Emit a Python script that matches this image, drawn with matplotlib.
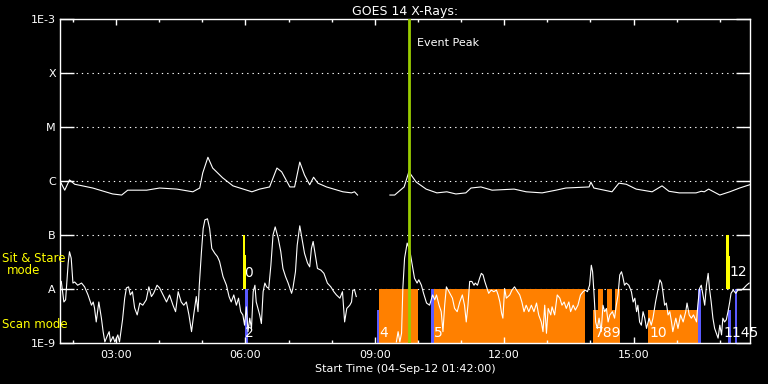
import numpy as np
import matplotlib
matplotlib.use('Agg')
import matplotlib.pyplot as plt
from matplotlib.ticker import FixedLocator, MultipleLocator, FuncFormatter

# hours since 00:00 on 04-Sep-12, flux as log10(W/m^2)
long_t = [1.70, 1.81, 1.92, 2.04, 2.46, 2.92, 3.13, 3.27, 3.71, 4.01, 4.41, 4.78, 4.94, 5.01,
          5.13, 5.24, 5.47, 5.71, 6.15, 6.33, 6.56, 6.73, 6.84, 7.03, 7.14, 7.26, 7.37, 7.49,
          7.58, 7.68, 7.88, 8.26, 8.46, 8.53, 8.60, 8.90,
          9.35, 9.46, 9.68, 9.79, 9.96, 10.19, 10.44, 10.67, 10.88, 11.11, 11.23, 11.46, 11.72,
          12.23, 12.51, 12.88, 13.20, 13.43, 13.97, 14.01, 14.08, 14.50, 14.66, 14.83, 15.06,
          15.43, 15.66, 15.82, 16.06, 16.45, 16.57, 16.64, 16.74, 17.00, 17.23, 17.46, 17.69]
long_lg = [-6.00, -6.17, -5.98, -6.06, -6.13, -6.24, -6.26, -6.17, -6.17, -6.13, -6.15, -6.20, -6.13, -5.85,
           -5.56, -5.76, -5.94, -6.09, -6.20, -6.15, -6.11, -5.76, -5.83, -6.11, -6.11, -5.65, -5.89, -6.07,
           -5.93, -6.04, -6.11, -6.20, -6.22, -6.20, -6.26, np.nan,
           -6.26, -6.26, -6.11, -5.83, -6.02, -6.15, -6.22, -6.20, -6.24, -6.22, -6.13, -6.11, -6.17,
           -6.15, -6.20, -6.22, -6.17, -6.13, -6.11, -6.02, -6.13, -6.20, -6.04, -6.06, -6.15,
           -6.20, -6.09, -6.19, -6.22, -6.22, -6.19, -6.20, -6.15, -6.26, -6.20, -6.13, -6.07]

short_t = [1.73, 1.79, 1.83, 1.85, 1.89, 1.92, 1.96, 2.00, 2.04, 2.11, 2.20, 2.27, 2.35, 2.43, 2.47,
           2.50, 2.54, 2.60, 2.66, 2.70, 2.74, 2.79, 2.84, 2.87, 2.93, 2.97, 3.01, 3.04, 3.08, 3.15,
           3.20, 3.24, 3.29, 3.33, 3.38, 3.43, 3.49, 3.55, 3.62, 3.70, 3.76, 3.82, 3.87, 3.95, 4.01,
           4.09, 4.17, 4.24, 4.32, 4.38, 4.44, 4.51, 4.57, 4.63, 4.69, 4.75, 4.80, 4.86, 4.90, 4.93,
           4.98, 5.02, 5.06, 5.12, 5.17, 5.22, 5.29, 5.35, 5.40, 5.48, 5.56, 5.62, 5.67, 5.73, 5.79,
           5.84, 5.89, 5.94, 5.98, 6.02, 6.06, 6.10, 6.14, 6.18, 6.22, 6.25, 6.29, 6.33, 6.37, 6.41,
           6.45, 6.49, 6.54, 6.59, 6.64, 6.69, 6.76, 6.82, 6.87, 6.93, 6.99, 7.07, 7.10, 7.16, 7.20,
           7.26, 7.31, 7.37, 7.44, 7.49, 7.53, 7.57, 7.62, 7.67, 7.75, 7.82, 7.90, 7.98, 8.05, 8.11,
           8.19, 8.25, 8.30, 8.35, 8.42, 8.46, 8.49, 8.53, 8.57, 9.00,
           9.50, 9.54, 9.58, 9.62, 9.65, 9.69, 9.75, 9.81, 9.87, 9.92, 9.98, 10.02, 10.08, 10.13,
           10.20, 10.27, 10.34, 10.39, 10.43, 10.49, 10.54, 10.58, 10.62, 10.66, 10.74, 10.80, 10.85,
           10.91, 10.97, 11.03, 11.08, 11.12, 11.16, 11.20, 11.25, 11.30, 11.33, 11.38, 11.43, 11.47,
           11.51, 11.55, 11.59, 11.64, 11.70, 11.76, 11.82, 11.86, 11.90, 11.94, 11.97, 12.01, 12.05,
           12.13, 12.18, 12.24, 12.31, 12.36, 12.41, 12.46, 12.51, 12.57, 12.63, 12.69, 12.75, 12.80,
           12.86, 12.90, 12.94, 12.98, 13.02, 13.08, 13.11, 13.17, 13.23, 13.29, 13.34, 13.39, 13.44,
           13.50, 13.54, 13.60, 13.65, 13.71, 13.77, 13.83, 13.88, 13.93, 13.98, 14.02, 14.05, 14.08,
           14.12, 14.16, 14.20, 14.25, 14.29, 14.33, 14.37, 14.41, 14.45, 14.51, 14.56, 14.60, 14.64,
           14.68, 14.72, 14.75, 14.79, 14.83, 14.89, 14.95, 14.99, 15.03, 15.07, 15.10, 15.14, 15.18,
           15.22, 15.26, 15.30, 15.36, 15.41, 15.45, 15.51, 15.57, 15.61, 15.65, 15.68, 15.72, 15.76,
           15.80, 15.84, 15.88, 15.91, 15.98, 16.03, 16.09, 16.15, 16.21, 16.24, 16.29, 16.34, 16.39,
           16.46, 16.49, 16.53, 16.57, 16.61, 16.65, 16.69, 16.73, 16.76, 16.80, 16.84, 16.88, 16.92,
           16.96, 17.00, 17.04, 17.07, 17.11, 17.15, 17.19, 17.23, 17.26, 17.31, 17.37, 17.42, 17.50,
           17.55, 17.62, 17.68]
short_lg = [-7.86, -8.24, -8.20, -7.98, -7.52, -7.31, -7.43, -7.89, -7.87, -7.93, -7.89, -7.96, -8.11, -8.30, -8.24,
            -8.35, -8.61, -8.24, -8.54, -8.79, -8.98, -8.88, -8.79, -8.98, -8.88, -8.98, -8.91, -8.85, -8.98, -8.57,
            -8.17, -7.98, -7.96, -8.11, -8.05, -8.35, -8.48, -8.26, -8.30, -8.20, -7.96, -8.14, -8.08, -7.93, -7.98,
            -8.11, -8.24, -8.11, -8.30, -8.42, -8.05, -8.24, -8.30, -8.24, -8.48, -8.79, -8.48, -8.14, -8.42, -7.93,
            -7.31, -6.88, -6.72, -6.70, -6.88, -7.25, -7.34, -7.40, -7.49, -7.77, -7.93, -8.14, -8.24, -8.11, -8.30,
            -8.17, -8.42, -8.48, -8.67, -8.33, -8.79, -8.54, -8.73, -8.05, -7.93, -8.24, -8.36, -8.48, -8.64, -8.05,
            -7.89, -7.96, -7.99, -7.56, -7.00, -6.85, -7.06, -7.31, -7.62, -7.77, -7.89, -8.08, -7.99, -7.68, -7.19,
            -6.83, -7.06, -7.34, -7.52, -7.59, -7.25, -7.12, -7.37, -7.62, -7.65, -7.71, -7.89, -7.96, -8.05, -8.11,
            -8.17, -8.05, -8.61, -8.36, -8.30, -8.24, -8.02, -8.02, -8.14, np.nan,
            -8.98, -8.79, -8.98, -8.82, -7.99, -7.43, -7.15, -7.28, -7.56, -7.80, -7.89, -7.83, -7.93, -8.08,
            -8.26, -8.30, -8.11, -8.20, -8.11, -8.30, -8.42, -8.79, -8.30, -7.96, -8.08, -8.17, -8.36,
            -8.42, -8.24, -8.11, -8.30, -8.61, -8.30, -7.86, -7.86, -7.93, -7.89, -7.93, -7.80, -7.71,
            -7.74, -7.86, -7.96, -8.08, -8.02, -8.05, -8.02, -8.11, -8.24, -8.45, -8.54, -7.99, -8.17,
            -8.11, -8.02, -7.96, -8.05, -8.11, -8.24, -8.42, -8.30, -8.42, -8.30, -8.42, -8.26, -8.48,
            -8.61, -8.79, -8.30, -8.82, -8.36, -8.48, -8.33, -8.48, -8.11, -8.17, -8.30, -8.24, -8.36,
            -8.24, -8.42, -8.30, -8.39, -8.30, -8.11, -8.05, -8.02, -8.05, -7.93, -7.56, -7.68, -8.05,
            -8.61, -8.73, -8.54, -8.79, -8.30, -8.42, -8.36, -8.61, -8.48, -8.42, -8.54, -8.30, -8.11,
            -7.74, -7.68, -7.77, -7.93, -7.89, -7.93, -8.05, -8.24, -8.17, -8.42, -8.30, -8.61, -8.67,
            -8.42, -8.54, -8.73, -8.54, -8.67, -8.54, -8.24, -7.99, -7.83, -7.89, -8.05, -8.30, -8.26,
            -8.48, -8.42, -8.61, -8.79, -8.54, -8.73, -8.48, -8.61, -8.42, -8.26, -8.48, -8.54, -8.48,
            -8.61, -8.30, -7.99, -7.93, -8.11, -8.30, -7.93, -7.71, -7.99, -8.24, -8.54, -8.73, -8.82,
            -8.91, -8.67, -8.85, -8.54, -8.61, -8.57, -8.42, -8.24, -8.08, -8.02, -8.08, -8.02, -8.02,
            -7.99, -7.93, -7.89]

# observation bars: start, end (hours), top flux
scan_start = [9.10, 10.37, 14.07, 14.17, 14.28, 14.38, 14.49, 14.56, 15.33]
scan_end = [10.01, 13.87, 14.17, 14.28, 14.38, 14.49, 14.56, 14.68, 16.49]
scan_top = [1e-8, 1e-8, 4e-9, 1e-8, 4e-9, 1e-8, 4e-9, 1e-8, 4e-9]

blue_start = [5.98, 9.04, 10.31, 16.49, 17.19, 17.35]
blue_end = [6.06, 9.10, 10.37, 16.57, 17.27, 17.41]
blue_top = [1e-8, 4e-9, 1e-8, 1e-8, 4e-9, 1e-8]

sit_start = [5.94, 5.98, 17.15, 17.19]
sit_end = [6.00, 6.02, 17.21, 17.23]
sit_top = [1e-7, 4.3e-8, 1e-7, 4e-8]

obs_labels = ['0', '2', '4', '5', '789', '10', '12', '1145']
obs_t = [6.06, 6.10, 9.20, 10.47, 14.42, 15.57, 17.42, 17.50]
obs_flux = [2.0e-8, 1.5e-9, 1.5e-9, 1.5e-9, 1.5e-9, 1.5e-9, 2.1e-8, 1.5e-9]

peak_t = 9.79
t_start, t_end = 1.70, 17.70

class_levels = [1e-9, 1e-8, 1e-7, 1e-6, 1e-5, 1e-4, 1e-3]
class_names = ['1E-9', 'A', 'B', 'C', 'M', 'X', '1E-3']

plt.rcParams['font.family'] = 'DejaVu Sans'
fig = plt.figure(figsize=(7.68, 3.84), dpi=100, facecolor='black')
ax = fig.add_axes([60 / 768, 1 - 343 / 384, 690 / 768, 324 / 384], facecolor='black')

ax.set_yscale('log')
ax.set_ylim(1e-9, 1e-3)
ax.set_xlim(t_start, t_end)

# bars
def draw_bars(starts, ends, tops, color, bottom=1e-9):
    s = np.array(starts)
    w = np.array(ends) - s
    h = np.array(tops) - bottom
    ax.bar(s, h, width=w, bottom=bottom, align='edge', color=color, linewidth=0, zorder=1)

draw_bars(scan_start, scan_end, scan_top, '#ff8000')
draw_bars(blue_start, blue_end, blue_top, '#5a5aff')
draw_bars(sit_start, sit_end, sit_top, '#ffff00', bottom=1e-8)

for lvl in class_levels[1:-1]:
    ax.axhline(lvl, color='white', lw=0.8, dashes=(1.2, 3.6), zorder=0.5)

ax.plot(long_t, 10 ** np.array(long_lg), color='white', lw=0.8, zorder=3)
ax.plot(short_t, 10 ** np.array(short_lg), color='white', lw=0.8, zorder=3)

ax.axvline(peak_t, color='#99cc00', lw=2, zorder=4)
ax.annotate('Event Peak', xy=(peak_t, 10 ** -3.44), xytext=(6, 0), textcoords='offset points',
            color='white', fontsize=8, va='center', ha='left')

for lab, t, f in zip(obs_labels, obs_t, obs_flux):
    ax.text(t, f, lab, color='white', fontsize=10, ha='center', va='center', zorder=5)

# axes styling
for sp in ax.spines.values():
    sp.set_color('white')
    sp.set_linewidth(1)

ax.yaxis.set_major_locator(FixedLocator(class_levels))
ax.yaxis.set_minor_locator(FixedLocator([]))
ax.set_yticklabels(class_names)
ax.tick_params(axis='y', which='major', direction='in', length=10, width=1, color='white',
               labelcolor='white', labelsize=8, left=True, right=True, pad=3)

ax.xaxis.set_major_locator(MultipleLocator(3))
ax.xaxis.set_minor_locator(MultipleLocator(1))
ax.xaxis.set_major_formatter(FuncFormatter(lambda v, p: '%02d:%02d' % (int(v), round((v % 1) * 60))))
ax.tick_params(axis='x', which='major', direction='in', length=4, width=1, color='white',
               labelcolor='white', labelsize=8, top=True, bottom=True, pad=5)
ax.tick_params(axis='x', which='minor', direction='in', length=2.5, width=1, color='white',
               top=True, bottom=True)

ax.set_title('GOES 14 X-Rays:', color='white', fontsize=9, pad=3)
ax.set_xlabel('Start Time (04-Sep-12 01:42:00)', color='white', fontsize=8, labelpad=3)

fig.text(2 / 768, 1 - 259 / 384, 'Sit & Stare', color='#ffff00', fontsize=8.5, ha='left', va='center')
fig.text(24 / 768, 1 - 271 / 384, 'mode', color='#ffff00', fontsize=8.5, ha='center', va='center')
fig.text(2 / 768, 1 - 325 / 384, 'Scan mode', color='#ffff00', fontsize=8.5, ha='left', va='center')

fig.savefig('out.png', dpi=100, facecolor='black')
